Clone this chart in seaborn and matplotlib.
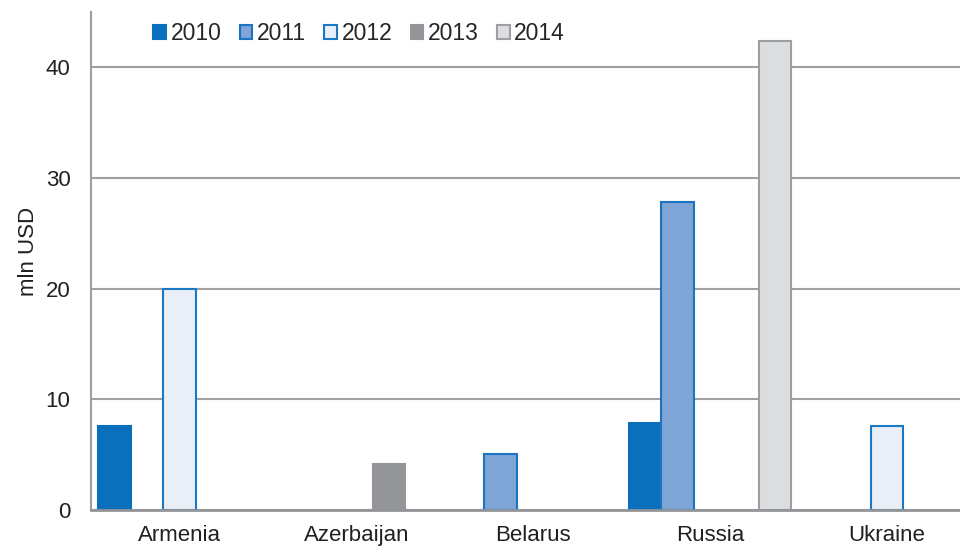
import matplotlib

matplotlib.use('Agg')
import matplotlib.pyplot as plt
import seaborn as sns
import pandas as pd
from matplotlib.patches import Patch

# Данные с графика
countries = ['Armenia', 'Azerbaijan', 'Belarus', 'Russia', 'Ukraine']
years = ['2010', '2011', '2012', '2013', '2014']
bar_country = ['Armenia', 'Armenia', 'Azerbaijan', 'Belarus', 'Russia', 'Russia', 'Russia', 'Ukraine']
bar_year = ['2010', '2012', '2013', '2011', '2010', '2011', '2014', '2012']
bar_value = [7.6, 20.0, 4.2, 5.1, 7.9, 27.8, 42.4, 7.6]

fill_colors = ['#0A6FBD', '#7FA4D6', '#E9EEF7', '#939598', '#DCDDDF']
edge_colors = ['#0A6FBD', '#1A74C2', '#1A78C4', '#939598', '#9D9EA1']

df = pd.DataFrame({'country': bar_country, 'year': bar_year, 'value': bar_value})

sns.set_theme(style="white")
plt.rcParams['font.family'] = ['Liberation Sans', 'DejaVu Sans']

fig = plt.figure(figsize=(9.6, 5.48), dpi=100)
ax = fig.add_axes([0.095, 0.0693, 0.905, 0.909])

sns.barplot(
    data=df, x='country', y='value', hue='year',
    order=countries, hue_order=years,
    palette=fill_colors, width=0.92, legend=False, ax=ax,
    saturation=1
)

for cont, ec in zip(ax.containers, edge_colors):
    for p in cont.patches:
        p.set_edgecolor(ec)
        p.set_linewidth(1.5)
        p.set_zorder(3)

ax.set_xlim(-0.5, 4.414)
ax.set_ylim(0, 45)
ax.set_yticks([0, 10, 20, 30, 40])
ax.yaxis.grid(True, color='#A0A0A3', linewidth=1.5)
ax.set_axisbelow(True)

for side in ['top', 'right']:
    ax.spines[side].set_visible(False)
ax.spines['left'].set_color('#A0A0A3')
ax.spines['left'].set_linewidth(1.5)
ax.spines['bottom'].set_color('#939598')
ax.spines['bottom'].set_linewidth(2)
ax.spines['bottom'].set_zorder(4)

ax.tick_params(axis='both', length=0, labelsize=16, colors='#231F20')
ax.tick_params(axis='y', pad=15)
ax.tick_params(axis='x', pad=11)
ax.set_xlabel('')
ax.set_ylabel('mln USD', fontsize=16, color='#231F20')
ax.yaxis.set_label_coords(-0.06, 0.52)

handles = [Patch(facecolor=fc, edgecolor=ec, linewidth=1.5) for fc, ec in zip(fill_colors, edge_colors)]
ax.legend(
    handles, years, loc='upper left', bbox_to_anchor=(0.061, 0.998),
    ncol=5, frameon=False, fontsize=16.5, handlelength=0.55, handleheight=0.55,
    handletextpad=0.2, columnspacing=0.8, borderaxespad=0.0
)

fig.savefig('out.png', dpi=100)
plt.close()
